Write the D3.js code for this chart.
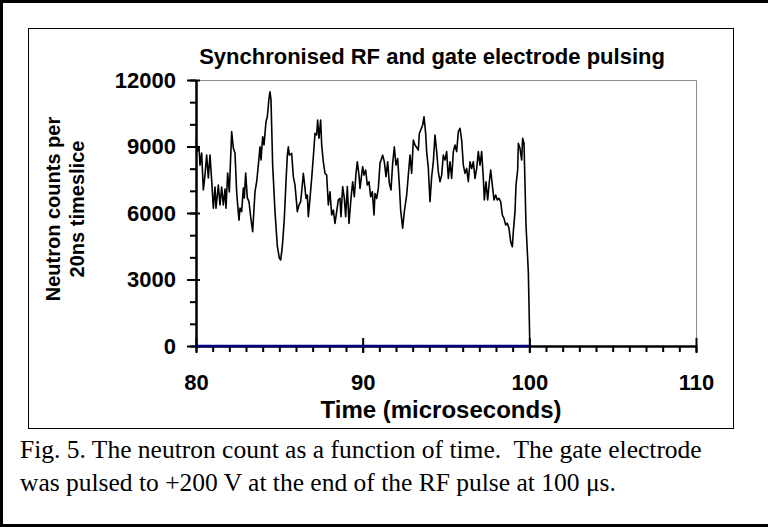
<!DOCTYPE html>
<html>
<head>
<meta charset="utf-8">
<script src="https://cdn.jsdelivr.net/npm/d3@7"></script>
<style>
  body { margin: 0; background: #fff; }
  svg text { font-family: "Liberation Sans", Arial, sans-serif; font-weight: bold; }
  svg text.caption { font-family: "Liberation Serif", "Times New Roman", serif; font-weight: normal; white-space: pre; }
</style>
</head>
<body>
<div id="chart"></div>
<script>
// ////////////////////////////////////////////////////////////////////////////
// DATA
// ////////////////////////////////////////////////////////////////////////////

const timeUs = [
  80.00, 80.08, 80.18, 80.24, 80.34, 80.44, 80.54, 80.64, 80.74, 80.84,
  80.94, 81.04, 81.14, 81.20, 81.34, 81.44, 81.54, 81.64, 81.74, 81.80,
  81.90, 82.00, 82.14, 82.24, 82.34, 82.44, 82.50, 82.58, 82.64, 82.74,
  82.84, 82.90, 82.98, 83.08, 83.18, 83.28, 83.40, 83.54, 83.64, 83.74,
  83.84, 83.90, 84.00, 84.08, 84.20, 84.28, 84.38, 84.44, 84.50, 84.60,
  84.74, 84.88, 85.00, 85.08, 85.18, 85.30, 85.40, 85.48, 85.54, 85.60,
  85.74, 85.84, 85.94, 86.08, 86.18, 86.28, 86.34, 86.44, 86.54, 86.60,
  86.68, 86.74, 86.84, 86.94, 87.04, 87.14, 87.24, 87.30, 87.38, 87.48,
  87.54, 87.64, 87.74, 87.84, 87.94, 88.04, 88.14, 88.24, 88.34, 88.54,
  88.64, 88.70, 88.80, 88.90, 88.98, 89.08, 89.18, 89.30, 89.40, 89.50,
  89.60, 89.68, 89.78, 89.84, 90.00, 90.08, 90.18, 90.28, 90.38, 90.48,
  90.58, 90.68, 90.74, 90.84, 90.94, 91.04, 91.20, 91.30, 91.40, 91.50,
  91.60, 91.70, 91.80, 91.90, 92.00, 92.10, 92.20, 92.28, 92.40, 92.50,
  92.64, 92.74, 92.84, 92.94, 93.04, 93.14, 93.34, 93.40, 93.60, 93.68,
  93.78, 93.84, 93.94, 94.04, 94.14, 94.24, 94.34, 94.44, 94.54, 94.64,
  94.74, 94.84, 94.94, 95.04, 95.14, 95.24, 95.34, 95.44, 95.54, 95.64,
  95.74, 95.84, 95.94, 96.04, 96.14, 96.24, 96.34, 96.44, 96.54, 96.64,
  96.74, 96.84, 96.94, 97.04, 97.14, 97.24, 97.30, 97.40, 97.50, 97.60,
  97.68, 97.78, 97.88, 97.98, 98.08, 98.18, 98.28, 98.38, 98.48, 98.58,
  98.68, 98.78, 98.88, 98.98, 99.04, 99.14, 99.20, 99.30, 99.34, 99.44,
  99.54, 99.60, 99.68, 99.80, 99.94, 100.03
];

const neutronCounts = [
  9290, 8770, 8990, 8160, 8700, 7040, 7710, 8610, 7580, 8610,
  7490, 6220, 7170, 6220, 7260, 6360, 7170, 6360, 7080, 6220,
  7800, 6950, 9670, 8930, 8700, 6950, 6360, 5680, 6220, 6060,
  7130, 6680, 7800, 6680, 6510, 5830, 5160, 6960, 7410, 8160,
  8990, 8390, 9440, 9070, 10120, 10340, 11170, 11470, 11100, 8160,
  6060, 4500, 3970, 3880, 4480, 5760, 7410, 8610, 8990, 8610,
  8690, 7640, 7260, 6060, 6360, 6510, 6960, 7790, 7110, 6660,
  6810, 5830, 6660, 7560, 8540, 9590, 9520, 10190, 9370, 10190,
  9070, 8310, 7790, 7710, 6360, 6960, 5910, 6130, 5530, 6590,
  6660, 5830, 7190, 6660, 5830, 7190, 5530, 6660, 7410, 6730,
  7790, 8310, 7710, 7110, 8090, 7710, 7940, 7260, 7410, 6730,
  6960, 5910, 6880, 6660, 7110, 8240, 8610, 8310, 7640, 8310,
  7340, 7040, 8240, 8990, 8160, 8460, 7260, 6130, 5310, 6060,
  6810, 7710, 8610, 7790, 9290, 9070, 8840, 9590, 9970, 10340,
  9590, 8770, 8010, 6510, 7640, 8310, 9520, 8770, 7860, 7410,
  7710, 8610, 8390, 8770, 7560, 8310, 7560, 8770, 9070, 8770,
  9670, 9820, 9290, 8160, 7790, 8010, 7410, 8310, 8010, 8310,
  7560, 8010, 8770, 8160, 8770, 7560, 6590, 7410, 6590, 7410,
  7940, 7260, 6590, 6810, 6590, 6660, 6510, 5910, 5760, 5460,
  5540, 5310, 4700, 4480, 5160, 6060, 7260, 7940, 9140, 8920,
  8390, 9370, 9140, 5460, 3350, 0
];

// second series: gate electrode trace sitting on zero
const gateTime = [80, 100];
const gateCounts = [0, 0];

const xMajorTicks = [80, 90, 100, 110];
const yMajorTicks = [0, 3000, 6000, 9000, 12000];

const titleText = 'Synchronised RF and gate electrode pulsing';
const yLabelLines = ['Neutron counts per', '20ns timeslice'];
const xLabelText = 'Time (microseconds)';
const captionLines = [
  'Fig. 5. The neutron count as a function of time.  The gate electrode',
  'was pulsed to +200 V at the end of the RF pulse at 100 \u03bcs.'
];

// ////////////////////////////////////////////////////////////////////////////
// DRAW
// ////////////////////////////////////////////////////////////////////////////

function drawChart() {
  const width = 768;
  const height = 527;
  const plot = { left: 196, right: 696, top: 80, bottom: 346 };

  const svg = d3.select('#chart').append('svg')
    .attr('width', width)
    .attr('height', height);

  // outer frame and chart-area box
  svg.append('path')
    .attr('d', `M1.5,${height} V1.5 H${width} M0,${height - 1.5} H${width}`)
    .attr('fill', 'none')
    .attr('stroke', '#000')
    .attr('stroke-width', 3);
  svg.append('rect')
    .attr('x', 28.5).attr('y', 28.5)
    .attr('width', 705).attr('height', 400)
    .attr('fill', 'none')
    .attr('stroke', '#000')
    .attr('stroke-width', 1);

  const x = d3.scaleLinear().domain([80, 110]).range([plot.left, plot.right]);
  const y = d3.scaleLinear().domain([0, 12000]).range([plot.bottom, plot.top]);

  // gray plot-area border (top and right)
  svg.append('path')
    .attr('d', `M${plot.left},${plot.top + 0.5} H${plot.right + 0.5} V${plot.bottom}`)
    .attr('fill', 'none')
    .attr('stroke', '#8c8c8c')
    .attr('stroke-width', 1);

  // minor ticks
  svg.append('g')
    .attr('transform', `translate(0,${plot.bottom})`)
    .call(d3.axisBottom(x).tickValues(d3.range(80, 111, 1)).tickSize(6).tickFormat(''))
    .call(g => g.select('.domain').remove())
    .selectAll('line').attr('stroke-width', 2);
  svg.append('g')
    .attr('transform', `translate(${plot.left},0)`)
    .call(d3.axisLeft(y).tickValues(d3.range(0, 12001, 1000)).tickSize(6).tickFormat(''))
    .call(g => g.select('.domain').remove())
    .selectAll('line').attr('stroke-width', 2);

  // major axes (ticks crossing the axis line)
  const xAxis = svg.append('g')
    .attr('transform', `translate(0,${plot.bottom})`)
    .call(d3.axisBottom(x).tickValues(xMajorTicks).tickSize(7).tickSizeOuter(0)
      .tickPadding(21).tickFormat(d3.format('d')));
  xAxis.selectAll('.tick line').attr('y1', -8).attr('stroke-width', 2);
  xAxis.select('.domain').attr('stroke-width', 2.5);
  xAxis.selectAll('text').attr('font-size', 22).attr('fill', '#000');

  const yAxis = svg.append('g')
    .attr('transform', `translate(${plot.left},0)`)
    .call(d3.axisLeft(y).tickValues(yMajorTicks).tickSize(9).tickSizeOuter(0)
      .tickPadding(11).tickFormat(d3.format('d')));
  yAxis.selectAll('.tick line').attr('x1', 4).attr('stroke-width', 2);
  yAxis.select('.domain').attr('stroke-width', 2.5);
  yAxis.selectAll('text').attr('font-size', 22).attr('fill', '#000');

  // series
  const line = d3.line()
    .x(d => x(d[0]))
    .y(d => y(d[1]));

  svg.append('path')
    .datum(d3.zip(gateTime, gateCounts))
    .attr('d', line)
    .attr('fill', 'none')
    .attr('stroke', '#000080')
    .attr('stroke-width', 2.5);

  svg.append('path')
    .datum(d3.zip(timeUs, neutronCounts))
    .attr('d', line)
    .attr('fill', 'none')
    .attr('stroke', '#000')
    .attr('stroke-width', 1.6)
    .attr('stroke-linejoin', 'round');

  // titles
  svg.append('text')
    .attr('x', 432).attr('y', 64)
    .attr('text-anchor', 'middle')
    .attr('font-size', 22)
    .text(titleText);

  svg.append('text')
    .attr('x', 441).attr('y', 418)
    .attr('text-anchor', 'middle')
    .attr('font-size', 24)
    .text(xLabelText);

  svg.append('g')
    .attr('transform', 'translate(0,209) rotate(-90)')
    .selectAll('text')
    .data(yLabelLines).enter()
      .append('text')
      .attr('x', 0)
      .attr('y', (d, i) => 60 + i * 24)
      .attr('text-anchor', 'middle')
      .attr('font-size', 20)
      .text(d => d);

  // caption
  svg.selectAll('text.caption')
    .data(captionLines).enter()
      .append('text')
      .attr('class', 'caption')
      .attr('x', 20)
      .attr('y', (d, i) => 458 + i * 33)
      .attr('font-size', 25.5)
      .text(d => d);
}

drawChart();
</script>
</body>
</html>
